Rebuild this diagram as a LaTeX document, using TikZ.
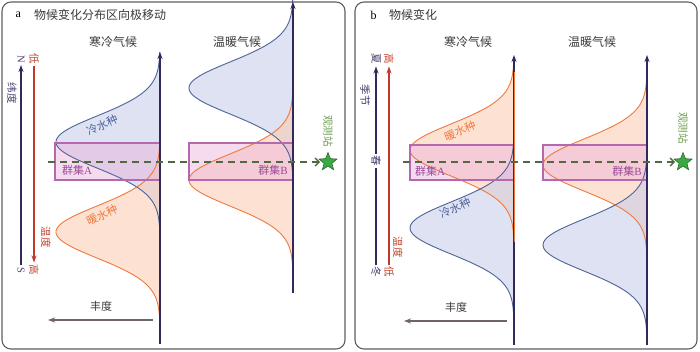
\documentclass[tikz,border=0pt]{standalone}
\usepackage{fontspec}
\setmainfont{Liberation Serif}
\newfontfamily\cjk{Noto Sans CJK SC}
\usetikzlibrary{arrows.meta,shapes.geometric}

\definecolor{framegray}{HTML}{5E5E5E}
\definecolor{textgray}{HTML}{3A3A3A}
\definecolor{axispurple}{HTML}{33285A}
\definecolor{axisred}{HTML}{C0392B}
\definecolor{bluecurve}{HTML}{4D6399}
\definecolor{bluefill}{HTML}{C4CBE8}
\definecolor{orangecurve}{HTML}{EF7A3E}
\definecolor{orangefill}{HTML}{FCC6A8}
\definecolor{boxdraw}{HTML}{B468AD}
\definecolor{boxfill}{HTML}{EAB0DA}
\definecolor{clustertext}{HTML}{9A4A98}
\definecolor{dashgreen}{HTML}{4E6A3E}
\definecolor{stargreen}{HTML}{3AA845}
\definecolor{stardark}{HTML}{2B6E2B}
\definecolor{stationtext}{HTML}{6A9A4A}
\definecolor{abundgray}{HTML}{6F6663}
\definecolor{latpurple}{HTML}{4A3D6E}
\definecolor{tempred}{HTML}{C2452F}

% bell curve: x position for a vertical axis at #1, centred at #2
\newcommand\bellx[2]{#1-104*exp(0-((\x-#2)^2)/1352)}

\begin{document}
\begin{tikzpicture}[
    x=1pt, y=-1pt, samples=100,
    panel/.style={draw=framegray, line width=1.1pt, rounded corners=9pt},
    zh/.style={font=\cjk\fontsize{12}{14}\selectfont, text=textgray, inner sep=1pt},
    lab/.style={font=\cjk\fontsize{11}{13}\selectfont, inner sep=1pt},
    vlabel/.style={font=\cjk\fontsize{10.5}{12}\selectfont, inner sep=2pt, rotate=-90},
    coldfill/.style={fill=bluefill, fill opacity=0.55},
    warmfill/.style={fill=orangefill, fill opacity=0.5},
    coldline/.style={draw=bluecurve, line width=0.9pt},
    warmline/.style={draw=orangecurve, line width=0.9pt},
    clusterfill/.style={fill=boxfill, fill opacity=0.45},
    clusterbox/.style={draw=boxdraw, line width=1.1pt},
    ax/.style={draw=axispurple, line width=1.3pt, -{Stealth[length=7pt,width=5pt]}},
    tempax/.style={draw=axisred, line width=1.3pt, -{Stealth[length=7pt,width=5pt]}},
    obsline/.style={draw=dashgreen, line width=1.4pt, dash pattern=on 7pt off 5pt,
        -{Straight Barb[length=4pt,width=8pt]}, shorten >=2pt},
    station/.style={star, star points=5, star point ratio=2.3, minimum size=19pt,
        inner sep=0pt, fill=stargreen, draw=stardark, line width=0.6pt},
    abund/.style={draw=abundgray, line width=1.2pt, -{Stealth[length=7pt,width=5pt]}}
]
\useasboundingbox (0,0) rectangle (700,351);
\draw[panel] (2,2) rectangle (345,349);
\draw[panel] (355,2) rectangle (697,349);

%%% panel a
\node[anchor=west, font=\fontsize{12}{14}\selectfont] (tagA) at (12,15) {a};
\node[zh, anchor=west] (titleA) at (33,15) {物候变化分布区向极移动};
\node[zh] (coldA) at (113,42) {寒冷气候};
\node[zh] (warmA) at (237,42) {温暖气候};

\fill[coldfill] plot[domain=52:232] ({\bellx{160}{142}},\x) -- cycle;
\fill[warmfill] plot[domain=142:322] ({\bellx{160}{232}},\x) -- cycle;
\fill[coldfill] plot[domain=0:178] ({\bellx{293}{88}},\x) -- cycle;
\fill[warmfill] plot[domain=90:270] ({\bellx{293}{180}},\x) -- cycle;
\fill[clusterfill] (55,143) rectangle (160,180);
\fill[clusterfill] (189,143) rectangle (293,180);
\draw[coldline] plot[domain=52:232] ({\bellx{160}{142}},\x);
\draw[warmline] plot[domain=142:322] ({\bellx{160}{232}},\x);
\draw[coldline] plot[domain=0:178] ({\bellx{293}{88}},\x);
\draw[warmline] plot[domain=90:270] ({\bellx{293}{180}},\x);
\draw[clusterbox] (55,143) rectangle (160,180);
\draw[clusterbox] (189,143) rectangle (293,180);

\coordinate (coldAbot) at (160,344);
\coordinate (coldAtop) at (160,52);
\coordinate (warmAbot) at (293,293);
\coordinate (warmAtop) at (293,2);
\draw[ax] (coldAbot) -- (coldAtop);
\draw[ax] (warmAbot) -- (warmAtop);

\node[lab, text=bluecurve, rotate=25] (coldspA) at (102,125) {冷水种};
\node[lab, text=orangecurve, rotate=25] (warmspA) at (102,215) {暖水种};
\node[lab, text=clustertext] (clusterA) at (77,170) {群集\textrm{A}};
\node[lab, text=clustertext] (clusterB) at (273,170) {群集\textrm{B}};

\node[vlabel, text=latpurple] (north) at (21,59) {\rmfamily N};
\node[vlabel, text=latpurple] (south) at (21,270) {\rmfamily S};
\node[vlabel, text=latpurple] (latitude) at (12,93) {纬度};
\node[vlabel, text=tempred] (lowA) at (34,59) {低};
\node[vlabel, text=tempred] (highA) at (34,270) {高};
\node[vlabel, text=tempred] (tempA) at (46,237) {温度};
\draw[ax] (south) -- (north);
\draw[tempax] (lowA) -- (highA);

\coordinate (dashA) at (48,162);
\node[station] (starA) at (328,162) {};
\draw[obsline] (dashA) -- (starA);
\node[vlabel, text=stationtext] (obsA) at (328,131) {观测站};

\coordinate (abundAr) at (153,320);
\coordinate (abundAl) at (48,320);
\draw[abund] (abundAr) -- (abundAl);
\node[lab, text=textgray] (abundA) at (101,306) {丰度};

%%% panel b
\node[anchor=west, font=\fontsize{12}{14}\selectfont] (tagB) at (367,15) {b};
\node[zh, anchor=west] (titleB) at (388,15) {物候变化};
\node[zh] (coldB) at (468,42) {寒冷气候};
\node[zh] (warmB) at (592,42) {温暖气候};

\fill[warmfill] plot[domain=60:240] ({\bellx{514}{150}},\x) -- cycle;
\fill[coldfill] plot[domain=138:318] ({\bellx{514}{228}},\x) -- cycle;
\fill[warmfill] plot[domain=75:255] ({\bellx{647}{165}},\x) -- cycle;
\fill[coldfill] plot[domain=155:335] ({\bellx{647}{245}},\x) -- cycle;
\fill[clusterfill] (410,145) rectangle (514,180);
\fill[clusterfill] (543,145) rectangle (647,180);
\draw[warmline] plot[domain=60:240] ({\bellx{514}{150}},\x);
\draw[coldline] plot[domain=138:318] ({\bellx{514}{228}},\x);
\draw[warmline] plot[domain=75:255] ({\bellx{647}{165}},\x);
\draw[coldline] plot[domain=155:335] ({\bellx{647}{245}},\x);
\draw[clusterbox] (410,145) rectangle (514,180);
\draw[clusterbox] (543,145) rectangle (647,180);

\coordinate (coldBbot) at (514,345);
\coordinate (coldBtop) at (514,55);
\coordinate (warmBbot) at (647,345);
\coordinate (warmBtop) at (647,55);
\draw[ax] (coldBbot) -- (coldBtop);
\draw[ax] (warmBbot) -- (warmBtop);
\draw[warmline] (514,72) -- (514,242);

\node[lab, text=orangecurve, rotate=22] (warmspB) at (460,131) {暖水种};
\node[lab, text=bluecurve, rotate=25] (coldspB) at (455,208) {冷水种};
\node[lab, text=clustertext] (clusterBA) at (430,171) {群集\textrm{A}};
\node[lab, text=clustertext] (clusterBB) at (627,171) {群集\textrm{B}};

\node[vlabel, text=latpurple] (summer) at (376,59) {夏};
\node[vlabel, text=latpurple] (season) at (365,95) {季节};
\node[vlabel, text=latpurple] (spring) at (376,161) {春};
\node[vlabel, text=latpurple] (winter) at (376,272) {冬};
\node[vlabel, text=tempred] (highB) at (389,59) {高};
\node[vlabel, text=tempred] (lowB) at (389,272) {低};
\node[vlabel, text=tempred] (tempB) at (398,247) {温度};
\draw[ax, -] (winter) -- (spring);
\draw[ax] (spring) -- (summer);
\draw[tempax] (lowB) -- (highB);

\coordinate (dashB) at (403,162);
\node[station] (starB) at (683,162) {};
\draw[obsline] (dashB) -- (starB);
\node[vlabel, text=stationtext] (obsB) at (683,128) {观测站};

\coordinate (abundBr) at (507,321);
\coordinate (abundBl) at (404,321);
\draw[abund] (abundBr) -- (abundBl);
\node[lab, text=textgray] (abundB) at (456,307) {丰度};
\end{tikzpicture}
\end{document}
